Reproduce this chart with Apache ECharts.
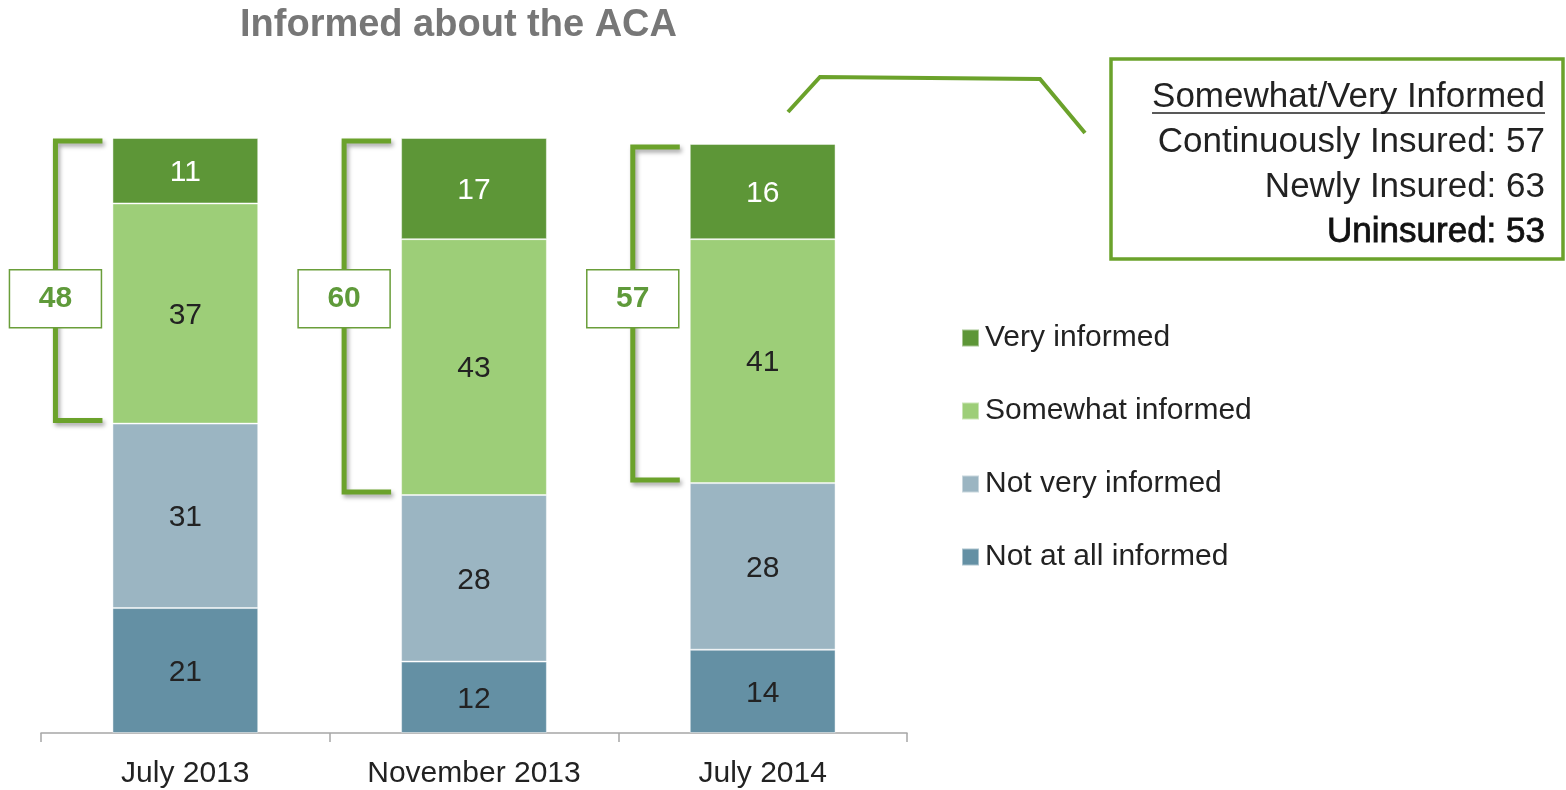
<!DOCTYPE html>
<html>
<head>
<meta charset="utf-8">
<title>Informed about the ACA</title>
<script src="https://cdn.jsdelivr.net/npm/echarts@6/dist/echarts.min.js"></script>
<style>
  html, body { margin: 0; padding: 0; background: #ffffff; }
  #chart { width: 1566px; height: 790px; }
</style>
</head>
<body>
<div id="chart"></div>
<script>
// Survey waves
const categories = ['July 2013', 'November 2013', 'July 2014'];

// Share of respondents per answer (percent), per wave
const notAtAll = [21, 12, 14];
const notVery  = [31, 28, 28];
const somewhat = [37, 43, 41];
const very     = [11, 17, 16];

const seriesNames = ['Not at all informed', 'Not very informed', 'Somewhat informed', 'Very informed'];
const legendOrder = ['Very informed', 'Somewhat informed', 'Not very informed', 'Not at all informed'];

// Somewhat/very informed by insurance status
const calloutTitle  = 'Somewhat/Very Informed';
const calloutGroups = ['Continuously Insured', 'Newly Insured', 'Uninsured'];
const calloutValues = [57, 63, 53];

const FONT = '"Liberation Sans", Arial, sans-serif';
const GREEN_LINE = '#6ba22b';
const COLORS = ['#6490a4', '#9bb5c2', '#9dce78', '#5d9637'];
const BAR_RATIO = 0.505;
const BOX_LEVEL = 73;   // y value where the total box sits on each bracket

const chart = echarts.init(document.getElementById('chart'), null, { renderer: 'canvas' });

const seriesValues = [notAtAll, notVery, somewhat, very];
const barSeries = seriesValues.map(function (vals, k) {
  return {
    name: seriesNames[k],
    type: 'bar',
    stack: 'total',
    data: vals,
    barWidth: (BAR_RATIO * 100) + '%',
    itemStyle: { color: COLORS[k], borderColor: 'rgba(255,255,255,0.45)', borderWidth: 1 },
    label: {
      show: true,
      position: 'inside',
      offset: [0, 2],
      color: k === 3 ? '#ffffff' : '#222222',
      fontSize: 30,
      fontFamily: FONT
    },
    emphasis: { disabled: true }
  };
});

// Bracket spanning somewhat + very informed, with the combined share in a box
const bracketData = categories.map(function (c, i) {
  const low = notAtAll[i] + notVery[i];
  const combined = somewhat[i] + very[i];
  return [i, low, low + combined, combined];
});

const bracketSeries = {
  type: 'custom',
  name: 'bracket',
  data: bracketData,
  encode: { x: 0, y: [1, 2] },
  clip: false,
  silent: true,
  z: 5,
  renderItem: function (params, api) {
    const idx = api.value(0);
    const low = api.value(1);
    const high = api.value(2);
    const total = api.value(3);
    const band = api.size([1, 0])[0];
    const cx = api.coord([idx, 0])[0];
    const barLeft = cx - band * BAR_RATIO / 2;
    const xv = barLeft - 57;
    const xa = barLeft - 10;
    const yTop = api.coord([idx, high])[1] + 3;
    const yBot = api.coord([idx, low])[1] - 3;
    const boxY = api.coord([idx, BOX_LEVEL])[1];
    return {
      type: 'group',
      children: [
        {
          type: 'polyline',
          shape: { points: [[xa, yTop], [xv, yTop], [xv, yBot], [xa, yBot]] },
          style: {
            stroke: GREEN_LINE, lineWidth: 5, fill: null,
            shadowBlur: 4, shadowColor: 'rgba(0,0,0,0.35)', shadowOffsetX: 2, shadowOffsetY: 3
          }
        },
        {
          type: 'rect',
          shape: { x: xv - 46, y: boxY - 29, width: 92, height: 58 },
          style: { fill: '#ffffff', stroke: '#6a9e3a', lineWidth: 1.5 }
        },
        {
          type: 'text',
          x: xv,
          y: boxY,
          style: {
            text: String(total),
            fill: '#5f9a3a',
            font: 'bold 30px ' + FONT,
            align: 'center', verticalAlign: 'middle',
            textAlign: 'center', textVerticalAlign: 'middle'
          }
        }
      ]
    };
  }
};

// Width of the callout heading, for its underline
function textWidth(str, font) {
  const ctx = document.createElement('canvas').getContext('2d');
  ctx.font = font;
  return ctx.measureText(str).width;
}

const CALLOUT_FONT = '35px ' + FONT;
const CALLOUT_RIGHT = 1545;
const calloutLines = [calloutTitle].concat(calloutGroups.map(function (g, i) {
  return g + ': ' + calloutValues[i];
}));

const calloutTexts = calloutLines.map(function (line, i) {
  const last = i === calloutLines.length - 1;
  return {
    type: 'text',
    x: CALLOUT_RIGHT,
    y: 97 + i * 45,
    z: 20,
    style: {
      text: line,
      fill: last ? '#111111' : '#222222',
      font: CALLOUT_FONT,
      align: 'right', verticalAlign: 'middle',
      textAlign: 'right', textVerticalAlign: 'middle',
      stroke: last ? '#111111' : null,
      lineWidth: last ? 0.8 : 0
    }
  };
});

const titleW = textWidth(calloutTitle, CALLOUT_FONT);

const option = {
  animation: false,
  backgroundColor: '#ffffff',
  title: {
    text: 'Informed about the ACA',
    left: 240,
    top: 3,
    padding: 0,
    textStyle: { fontFamily: FONT, fontSize: 38, fontWeight: 'bold', color: '#777777', lineHeight: 46 }
  },
  grid: { left: 41, right: 659, top: 138, bottom: 57, containLabel: false },
  legend: {
    data: legendOrder,
    orient: 'vertical',
    left: 961,
    top: 323,
    padding: 0,
    itemWidth: 17,
    itemHeight: 17,
    itemGap: 43,
    icon: 'rect',
    selectedMode: false,
    textStyle: { fontFamily: FONT, fontSize: 30, color: '#222222', lineHeight: 30, padding: [0, 0, 0, 1] }
  },
  xAxis: {
    type: 'category',
    data: categories,
    axisLine: { lineStyle: { color: '#a6a6a6', width: 1.5 } },
    axisTick: { show: true, length: 9, lineStyle: { color: '#a6a6a6', width: 1.5 } },
    axisLabel: { fontFamily: FONT, fontSize: 30, color: '#222222', margin: 26, lineHeight: 30 }
  },
  yAxis: {
    type: 'value',
    min: 0,
    max: 100,
    show: false,
    splitLine: { show: false }
  },
  series: barSeries.concat([bracketSeries]),
  graphic: [
    {
      type: 'polyline',
      z: 10,
      shape: { points: [[788, 112], [820, 77], [1040, 79], [1085, 133]] },
      style: { stroke: GREEN_LINE, lineWidth: 4, fill: null }
    },
    {
      type: 'rect',
      z: 10,
      shape: { x: 1111, y: 59, width: 452, height: 200 },
      style: { fill: '#ffffff', stroke: GREEN_LINE, lineWidth: 3.5 }
    },
    {
      type: 'line',
      z: 20,
      shape: { x1: CALLOUT_RIGHT - titleW, y1: 113, x2: CALLOUT_RIGHT, y2: 113 },
      style: { stroke: '#222222', lineWidth: 1.5 }
    }
  ].concat(calloutTexts)
};

chart.setOption(option);
</script>
</body>
</html>
